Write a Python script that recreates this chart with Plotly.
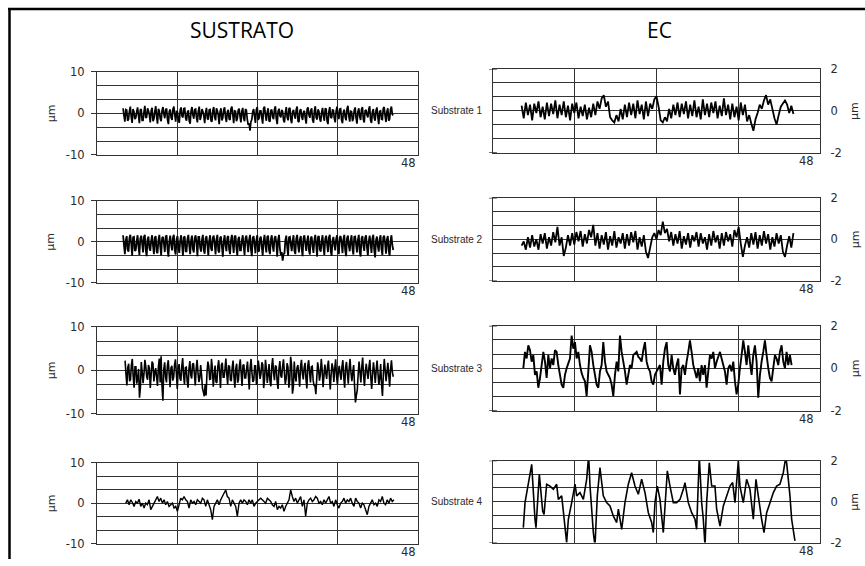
import numpy as np
import plotly.graph_objects as go

# ---------------- data ----------------
column_titles = ["SUSTRATO", "EC"]
substrate_labels = ["Substrate 1", "Substrate 2", "Substrate 3", "Substrate 4"]
x_max = 48
x_ticks = [0, 12, 24, 36, 48]
left_ticks = [-10, 0, 10]
left_minor = [-6.667, -3.333, 3.333, 6.667]
right_ticks = [-2, 0, 2]
right_minor = [-1.333, -0.667, 0.667, 1.333]
unit_label = "µm"
end_label = "48"

# SUSTRATO profiles (µm): main samples + in-between samples, uniform over span (mm)
sus1_span = [3.9, 44.3]
sus1 = [1.2,-2.0,0.8,-1.5,1.6,-2.3,0.4,-1.1,1.4,-2.4,
        1.0,-1.7,1.8,-0.9,0.6,-2.2,1.3,-1.4,1.7,-2.5,
        0.5,-1.9,1.5,-1.2,1.1,-2.6,0.9,-1.6,1.6,-2.0,
        0.3,-2.3,1.4,-1.0,1.2,-1.8,0.7,-2.5,1.5,-1.3,
        1.0,-2.2,1.6,-0.8,0.4,-2.4,1.3,-1.5,0.9,-2.0,
        1.5,-1.7,0.6,-2.6,1.2,-1.1,1.4,-2.1,0.8,-1.6,
        1.6,-2.4,0.5,-1.3,1.1,-2.2,1.3,-1.9,0.7,-2.8,
        -4.2,-1.5,1.0,-2.3,1.5,-1.2,0.6,-2.5,1.6,-1.8,
        1.2,-2.0,0.9,-1.4,1.7,-2.6,1.1,-1.0,0.4,-2.2,
        1.5,-1.7,1.3,-2.4,0.8,-1.3,1.6,-2.1,1.0,-1.6,
        0.6,-2.5,1.4,-1.1,1.2,-2.3,1.7,-1.5,0.5,-2.0,
        1.3,-1.8,1.0,-2.6,1.5,-1.2,0.7,-2.2,1.6,-1.4,
        1.1,-2.4,0.9,-1.7,1.8,-2.0,0.4,-1.3,1.4,-2.5,
        1.2,-1.6,1.5,-2.2,0.8,-1.0,1.7,-2.3,1.0,-1.8,
        1.4,-2.6,0.6,-1.5,1.5,-2.1,1.2,-1.4,1.6,-0.5]
sus1_mid = [-0.6,0.9,-1.8,0.5,-0.9,1.0,-1.4,0.3,-0.5,0.8,
            -1.7,0.2,-1.1,1.2,-0.4,0.6,-1.9,0.4,-0.8,1.1,
            -1.3,0.7,-0.2,0.9,-1.6,0.5,-1.0,1.0,-0.3,0.4,
            -1.5,0.8,-0.7,1.1,-1.2,0.3,-1.9,0.6,-0.4,0.9,
            -1.1,0.5,-1.6,1.0,-0.6,0.2,-1.3,0.8,-1.8,0.7,
            -0.9,1.2,-0.5,0.4,-1.7,0.9,-1.0,0.3,-1.4,1.1,
            -0.3,0.6,-1.9,0.8,-0.8,0.5,-1.2,1.0,-1.5,-2.4,
            -2.0,0.4,-0.7,0.9,-1.6,0.6,-1.1,1.2,-0.4,0.3,
            -1.8,0.7,-0.9,1.0,-1.3,0.5,-0.6,0.8,-1.7,0.2,
            -1.0,1.1,-1.5,0.4,-0.5,0.9,-1.9,0.6,-0.8,0.3,
            -1.2,1.0,-0.4,0.7,-1.6,0.5,-1.1,0.9,-1.4,0.2,
            -0.7,1.2,-1.8,0.4,-0.9,0.8,-1.3,0.6,-0.5,1.0,
            -1.6,0.3,-1.0,1.1,-0.6,0.5,-1.9,0.8,-1.2,0.4,
            -0.8,0.9,-1.5,0.6,-0.4,1.0,-1.7,0.3,-1.1,0.7,
            -0.9,0.5,-1.4,1.2,-0.6,0.4,-1.8,0.9,-0.3]

sus2_span = [3.9, 44.3]
sus2 = [1.6,-3.0,1.4,-2.4,1.7,-3.4,1.2,-2.0,1.6,-3.2,
        1.5,-2.6,1.7,-3.5,1.3,-2.2,1.6,-3.0,1.4,-2.8,
        1.7,-3.3,1.2,-2.5,1.6,-3.6,1.5,-2.1,1.7,-3.1,
        1.4,-2.7,1.6,-3.4,1.3,-2.3,1.7,-3.0,1.5,-2.6,
        1.6,-3.5,1.2,-2.4,1.7,-2.9,1.4,-3.3,1.6,-2.2,
        1.5,-3.1,1.7,-2.6,1.3,-3.6,1.6,-2.3,1.4,-3.0,
        1.7,-2.7,1.5,-3.4,1.2,-2.1,1.6,-3.2,1.5,-2.5,
        1.7,-3.5,1.4,-2.8,1.6,-2.2,1.3,-3.3,1.7,-2.6,
        1.5,-3.0,1.6,-2.4,1.4,-3.6,1.7,-3.2,-4.6,-2.8,
        1.5,-3.4,1.2,-2.3,1.6,-3.0,1.7,-2.6,1.4,-3.5,
        1.6,-2.2,1.5,-3.1,1.3,-2.7,1.7,-3.6,1.4,-2.4,
        1.6,-3.2,1.5,-2.5,1.7,-3.4,1.2,-2.1,1.6,-3.0,
        1.4,-2.8,1.7,-3.5,1.5,-2.3,1.6,-3.1,1.3,-2.6,
        1.7,-3.6,1.4,-2.2,1.6,-3.3,1.5,-2.7,1.7,-3.8,
        1.3,-2.4,1.6,-3.2,1.5,-2.9,1.4,-3.4,1.6,-2.0]
sus2_mid = [-0.8,0.4,-1.9,0.9,-0.5,1.1,-2.2,0.2,-1.2,0.8,
            -0.3,1.2,-2.0,0.6,-1.5,0.3,-0.9,1.0,-2.4,0.5,
            -1.1,0.9,-0.4,1.3,-1.8,0.1,-0.7,1.0,-2.1,0.6,
            -1.3,0.3,-0.6,1.1,-2.3,0.7,-1.0,0.4,-1.7,0.9,
            -0.2,1.2,-1.4,0.5,-2.0,0.8,-0.8,0.3,-1.6,1.0,
            -0.5,0.6,-2.2,0.9,-1.2,0.2,-0.9,1.1,-1.9,0.4,
            -0.6,1.3,-1.5,0.7,-2.1,0.3,-1.1,0.9,-0.4,0.5,
            -1.8,1.0,-0.7,0.4,-2.4,0.8,-1.3,0.2,-0.8,1.2,
            -2.0,0.6,-1.0,0.9,-0.3,0.5,-1.7,-2.5,-3.0,0.4,
            -1.2,1.1,-0.6,0.3,-2.2,0.8,-0.9,0.6,-1.6,1.0,
            -0.4,0.2,-2.0,0.9,-1.1,0.5,-0.7,1.2,-1.9,0.3,
            -1.4,0.8,-0.5,1.0,-2.3,0.4,-0.8,0.7,-1.5,1.1,
            -0.2,0.6,-2.1,0.9,-1.0,0.3,-1.7,1.2,-0.6,0.5,
            -2.4,0.8,-0.9,1.0,-1.3,0.2,-0.5,0.9,-2.0,0.4,
            -1.1,0.7,-1.8,1.1,-0.4,0.6,-2.2,0.3,-0.8]

sus3_span = [4.2, 44.3]
sus3 = [2.2,-3.5,1.5,-2.2,2.6,-4.0,0.8,-1.8,-6.3,1.9,
        -3.0,2.4,-1.5,1.2,-4.1,2.0,-2.6,0.5,-3.6,2.7,
        3.2,-7.0,1.8,-2.8,2.3,-3.9,1.0,-1.6,2.5,-4.3,
        1.4,-2.4,2.8,-3.2,0.7,-4.0,2.1,-1.9,1.6,-3.5,
        2.4,-2.7,1.2,-4.2,-6.0,-5.8,2.0,-2.1,2.6,-3.8,
        1.1,-2.9,2.3,-4.1,1.7,-1.6,2.7,-3.3,0.9,-2.5,
        2.2,-4.0,1.5,-2.2,2.5,-3.6,1.3,-1.8,2.0,-4.4,
        2.6,-2.7,1.0,-3.4,2.2,-2.0,1.8,-4.1,2.4,-2.9,
        1.4,-3.7,2.8,-2.3,0.8,-4.3,2.1,-1.7,2.5,-3.2,
        1.6,-4.0,3.1,-5.4,2.0,-2.6,1.2,-3.8,2.4,-2.1,
        1.7,-4.2,2.3,-2.8,0.9,-3.5,-5.5,1.8,-2.4,2.6,
        -3.9,1.3,-2.0,2.2,-4.4,1.6,-2.7,2.5,-3.3,1.0,
        -2.2,2.3,-4.0,1.9,-3.1,2.6,-2.5,1.2,-7.4,-4.6,
        2.0,-2.8,2.9,-3.6,1.5,-2.0,2.4,-4.3,1.8,-2.9,
        2.2,-3.4,1.4,-5.9,2.6,-2.5,1.7,-3.8,2.3,-1.5]
sus3_mid = [-0.9,0.6,-2.5,1.2,-1.4,0.8,-3.1,0.3,-4.0,-0.5,
            -0.8,0.9,-2.2,0.4,-1.0,1.5,-0.6,-1.4,0.7,-2.8,
            -3.5,0.2,-1.6,1.0,-0.9,0.5,-2.4,1.3,-0.7,0.1,
            -1.9,0.9,-1.2,0.6,-2.6,0.4,-1.1,1.4,-0.8,0.3,
            -0.5,-1.8,-1.2,-5.0,-3.2,-0.6,0.9,-2.0,0.5,-1.3,
            -2.7,0.8,-0.4,1.2,-1.6,0.3,-0.9,1.0,-2.2,0.6,
            -1.5,0.4,-2.9,0.9,-0.7,1.1,-1.8,0.2,-1.2,0.7,
            -0.6,-2.3,1.0,-1.4,0.5,-0.8,1.3,-2.0,0.4,-1.0,
            -2.5,0.9,-0.6,1.1,-2.7,0.3,-1.3,0.8,-0.4,-1.9,
            0.7,-2.2,1.2,-3.8,-1.5,0.5,-1.1,0.9,-0.7,0.6,
            -2.0,1.0,-0.5,0.8,-2.4,-3.6,-1.8,0.4,-1.0,0.2,
            -1.3,-0.6,0.9,-1.2,-0.8,0.3,0.5,-1.4,-0.2,-0.9,
            0.8,-1.6,0.6,-0.7,0.3,-0.5,-0.4,-3.6,-5.8,-0.9,
            -0.4,0.7,-1.1,-0.3,-0.6,0.8,-1.5,-0.9,-0.2,-0.1,
            -0.6,-1.8,-3.2,-1.0,0.1,-0.5,-1.0,0.2,-0.4]

sus4_span = [4.3, 44.4]
sus4 = [0,0.81,-0.41,0.81,0.16,-0.81,0.41,0,0.98,-0.81,
        0,-1.22,0,-0.41,0.81,-1.63,
        -0.81,0,0.81,1.63,0.41,1.22,0,0.81,-0.41,0.41,-0.81,-0.41,0,-1.22,-0.81,-2.03,-0.41,1.22,0.81,1.63,
        0.81,0.41,-1.22,0.81,0,0.41,-0.41,0.81,0.41,0,1.22,0.81,-0.81,0.81,-0.41,-1.63,-4.07,-0.81,0,0.81,
        -0.41,0.81,1.63,2.44,3.25,1.63,1.22,-0.81,0.81,0,-0.81,-3.25,0,0.81,0,0.81,0.41,-0.41,0.81,0,
        0.81,-0.81,0,0.41,0.81,1.22,0.81,0.41,0,1.22,0.81,0.41,-0.41,-0.81,0.41,-1.63,-0.81,-1.22,-0.41,-2.03,
        -0.81,0,0.81,3.25,1.63,0.41,1.22,0,0.81,1.63,-0.81,0.81,-3.25,0,0.81,1.22,0.41,0.81,1.63,1.22,
        0,0.41,-0.41,0.81,0,0.81,1.63,0,0.41,-0.81,0.81,-0.41,-1.22,0,0.41,1.22,0,0.81,0.41,1.22,
        0,-0.81,1.22,0.41,0,-1.22,0,-0.41,-1.63,-2.85,-0.81,0,0.81,-0.41,0,-0.81,0.81,0.41,1.63,0,
        -0.41,0.81,0,1.22,0.41,0.81]

# EC profiles (µm)
ec1_span = [4.2, 44.1]
ec1 = [0.25,-0.35,0.4,-0.2,0.3,-0.45,0.35,-0.1,0.45,-0.3,
       0.2,-0.4,0.4,-0.25,0.35,-0.15,0.5,-0.35,0.3,-0.2,
       0.45,-0.3,0.25,-0.45,0.35,-0.1,0.4,-0.35,0.2,-0.25,
       0.3,-0.4,0.15,-0.3,0.35,-0.2,0.45,0.1,0.6,0.75,
       0.2,0.45,-0.3,-0.45,-0.55,-0.2,-0.5,0.1,-0.4,0.3,
       -0.3,0.4,-0.2,0.35,-0.35,0.5,-0.15,0.3,-0.4,0.45,
       -0.25,0.35,0.1,0.55,0.7,0.2,-0.45,-0.55,-0.3,-0.5,
       0.1,-0.35,0.3,-0.2,0.4,-0.3,0.35,-0.15,0.45,-0.35,
       0.3,-0.25,0.5,-0.3,0.2,-0.4,0.55,-0.2,0.35,-0.3,
       0.4,-0.1,0.45,-0.35,0.25,-0.25,0.6,-0.2,0.3,-0.4,
       0.35,-0.3,0.2,-0.45,0.4,-0.2,0.3,-0.5,-0.2,-0.6,
       -0.95,-0.4,-0.1,0.3,0.1,0.5,0.75,0.3,0.55,0.1,
       -0.35,-0.65,-0.2,0.2,0.35,0.5,0.3,-0.1,0.25,-0.15]

ec2_span = [4.2, 44.1]
ec2 = [-0.3,-0.1,-0.5,0.1,-0.4,0.2,-0.35,0.0,-0.5,0.25,
       -0.2,0.3,-0.45,0.1,-0.3,0.35,-0.15,0.6,-0.3,0.1,
       -0.8,-0.4,0.2,-0.3,0.3,-0.25,0.35,-0.1,0.4,-0.35,
       0.25,-0.2,0.45,0.1,0.7,-0.3,0.3,-0.45,0.2,-0.25,
       0.35,-0.5,0.15,-0.3,0.4,-0.4,0.1,-0.2,0.3,-0.45,
       0.25,-0.3,0.35,-0.15,0.4,-0.5,0.1,-0.35,0.2,-0.6,
       -0.9,-0.4,0.1,0.3,0.0,0.45,0.2,0.85,0.3,0.5,
       -0.1,0.35,-0.3,0.25,-0.2,0.4,-0.45,0.15,-0.25,0.3,
       -0.4,0.2,-0.1,0.35,-0.35,0.3,-0.2,0.1,-0.5,0.25,
       -0.3,0.4,-0.15,0.2,-0.45,0.3,-0.3,0.35,-0.1,0.25,
       -0.35,0.45,0.1,0.6,-0.2,-0.85,-0.3,0.1,-0.4,0.3,
       -0.25,0.35,-0.45,0.2,-0.3,0.4,-0.2,0.25,-0.5,0.1,
       -0.35,0.3,-0.2,0.2,-0.6,-0.85,-0.3,0.15,-0.4,0.3]

ec3_span = [4.45, 43.83]
ec3 = [0,0.77,0.46,1.08,0.85,0.31,0.62,-0.31,-0.15,-0.92,
       -0.46,0.15,0.77,0.31,-0.46,0.62,0,0.46,0.15,0.85,
       0.77,0.15,-0.31,-0.77,-0.92,-0.31,0,0.23,0.46,1.54,
       0.92,1.23,0.46,0.77,0.15,-0.23,-0.46,-0.62,-1.31,-0.15,
       1.08,0.77,0.15,-0.31,-0.77,-0.92,-0.15,0.15,1.23,0.31,
       -0.15,-0.31,-0.46,-0.77,-1.31,-0.31,0.31,-0.15,1.54,0.77,
       0.31,-0.15,-0.77,-0.31,0.15,0,0.62,0.69,0.77,0.54,
       0.46,0.31,0.85,1.23,0.31,0,-0.15,-0.62,-0.77,-0.31,
       -0.15,0,0.15,-0.77,0.31,0.92,1.23,0.15,-0.15,0.62,
       0,-0.31,0.15,0.46,-1.23,0,0.15,-0.31,0.31,0.77,
       1.31,0.77,0.15,-0.15,-0.46,0,-0.62,0.15,-0.31,0.15,
       -0.92,-0.15,0.62,0.46,0.77,0,0.31,0.54,0.77,0.46,
       0.15,-0.15,-0.77,0,0.15,-0.15,0.31,-0.62,-1.23,-0.77,
       0,0.62,1.31,0.77,0.15,1.08,0.31,-0.31,0.62,1.08,
       0.31,-1.39,-0.31,0.31,0.77,1.31,0.62,0,-0.46,-0.62,
       0,0.62,0.46,0.15,0.77,1.08,0.31,0,0.77,0.15,
       0.62,0.15]

ec4_x = [4.45,4.70,5.68,6.16,6.31,6.80,7.29,7.49,7.88,8.37,8.86,9.34,9.59,10.08,10.32,10.81,
         11.06,11.55,12.04,12.28,12.77,13.26,13.75,14.04,14.24,14.73,14.97,15.31,15.70,16.19,
         16.68,17.17,17.66,18.15,18.40,18.89,19.37,19.86,20.35,20.84,21.33,21.82,22.31,22.80,
         23.29,23.53,23.78,24.12,24.51,25.00,25.59,25.98,26.47,26.96,27.45,27.94,28.18,28.67,
         29.16,29.65,29.89,30.28,30.63,30.87,31.12,31.36,31.75,32.10,32.58,32.83,33.32,33.81,
         34.30,34.79,35.18,35.52,36.01,36.25,36.74,37.23,37.72,38.21,38.60,38.94,39.43,39.78,
         40.17,40.66,41.15,41.63,42.12,42.61,43.00,43.35,43.59,43.84,44.32]
ec4 = [-1.27,-0.05,1.82,-0.86,-1.27,1.33,-0.46,-0.62,0.85,0.76,0.60,0.85,0.11,0.28,-0.46,-2.0,
       -0.86,-0.05,0.85,0.28,0.44,0.11,1.09,2.26,0.76,-1.51,-2.16,0.28,1.66,0.28,
       -0.05,-0.21,-0.70,-1.02,-0.37,-1.35,-0.05,0.85,1.41,0.76,0.36,1.09,0.44,-0.54,
       -1.02,-1.51,-0.05,0.76,0.11,-1.51,1.50,0.76,-0.05,-0.05,0.11,0.60,0.93,-0.05,
       -0.54,-0.86,-1.35,2.23,-0.05,-0.86,-2.16,-0.05,1.90,0.76,0.76,-0.37,-1.19,-0.21,
       0.28,0.76,0.93,-0.05,1.98,0.76,-0.05,1.09,0.60,-0.86,1.09,0.28,-0.86,-1.51,
       -0.54,-0.05,0.44,0.76,0.85,1.41,2.23,1.09,0.28,-0.86,-1.92]

# ---------------- figure ----------------
W, H = 865, 566


def Y(px):
    # vertical placement correction for the renderer (measured)
    return (px - 6.0) / 0.976


def ydom(top, bot):
    return [1 - Y(bot) / H, 1 - Y(top) / H]


def yp(px):
    return 1 - Y(px) / H


left_xdom = [97 / W, 418 / W]
right_xdom = [493 / W, 820 / W]
left_rows_px = [(70.7, 154), (200, 282), (326, 413), (462, 543)]
right_rows_px = [(68, 152), (197, 280), (325, 410), (460, 542)]

GRID = "#333333"
TXT = "#2a2a2a"
tick_font = dict(family="DejaVu Sans, sans-serif", size=11.5, color=TXT)


def interleave(main, mid):
    out = []
    for k, v in enumerate(main):
        out.append(v)
        if k < len(mid):
            out.append(mid[k])
    return out


fig = go.Figure()

left_series = [(interleave(sus1, sus1_mid), sus1_span),
               (interleave(sus2, sus2_mid), sus2_span),
               (interleave(sus3, sus3_mid), sus3_span),
               (sus4, sus4_span)]
right_series = [(ec1, ec1_span), (ec2, ec2_span), (ec3, ec3_span)]
line_widths = [1.7, 1.8, 1.6, 1.4, 1.8, 1.8, 1.9, 1.6]

layout = {}
annotations = []
shapes = []

for i in range(8):
    n = i + 1
    xa = "x" if n == 1 else f"x{n}"
    ya = "y" if n == 1 else f"y{n}"
    is_left = i < 4
    row = i % 4
    if is_left:
        vals, span = left_series[row]
        xs = np.linspace(span[0], span[1], len(vals))
        ys = vals
    else:
        if row < 3:
            vals, span = right_series[row]
            xs = np.linspace(span[0], span[1], len(vals))
            ys = vals
        else:
            xs, ys = ec4_x, ec4
    fig.add_trace(go.Scatter(x=xs, y=ys, xaxis=xa, yaxis=ya, mode="lines",
                             line=dict(color="black", width=line_widths[i], simplify=False),
                             showlegend=False, hoverinfo="skip"))

    xdom = left_xdom if is_left else right_xdom
    top, bot = (left_rows_px if is_left else right_rows_px)[row]
    layout[f"xaxis{n if n > 1 else ''}"] = dict(
        domain=xdom, anchor=ya, range=[0, x_max], tickvals=x_ticks,
        showticklabels=False, ticks="", showgrid=True, gridcolor=GRID, gridwidth=1.2,
        zeroline=False, showline=True, mirror=True, linecolor=GRID, linewidth=1.3,
        fixedrange=True)
    if is_left:
        layout[f"yaxis{n if n > 1 else ''}"] = dict(
            domain=ydom(top, bot), anchor=xa, range=[-10, 10],
            tickvals=left_ticks, ticktext=[str(t) for t in left_ticks],
            ticks="outside", ticklen=5, tickcolor=GRID, tickwidth=1.3,
            tickfont=tick_font, ticklabelstandoff=4,
            showgrid=True, gridcolor=GRID, gridwidth=1.2,
            minor=dict(tickvals=left_minor, showgrid=True, gridcolor=GRID, gridwidth=1.2, ticks=""),
            zeroline=False, showline=True, mirror=True, linecolor=GRID, linewidth=1.3,
            fixedrange=True)
        annotations.append(dict(text=unit_label, xref="paper", yref=ya, x=51 / W, y=0,
                                xanchor="center", yanchor="middle",
                                textangle=-90, showarrow=False,
                                font=dict(family="DejaVu Sans, sans-serif", size=11, color=TXT)))
    else:
        layout[f"yaxis{n}"] = dict(
            domain=ydom(top, bot), anchor=xa, range=[-2, 2], side="right",
            tickvals=right_ticks, ticktext=[str(t) for t in right_ticks],
            ticks="", tickfont=tick_font, ticklabelstandoff=7,
            showgrid=True, gridcolor=GRID, gridwidth=1.2,
            minor=dict(tickvals=right_minor, showgrid=True, gridcolor=GRID, gridwidth=1.2, ticks=""),
            zeroline=False, showline=True, mirror=True, linecolor=GRID, linewidth=1.3,
            fixedrange=True)
        annotations.append(dict(text=unit_label, xref="paper", yref=ya, x=855 / W, y=0,
                                xanchor="center", yanchor="middle",
                                textangle=-90, showarrow=False,
                                font=dict(family="DejaVu Sans, sans-serif", size=11, color=TXT)))
        annotations.append(dict(text=substrate_labels[row], xref="paper", yref=ya,
                                x=457 / W, y=0, xanchor="center", yanchor="middle",
                                showarrow=False,
                                font=dict(family="Liberation Sans Narrow, Liberation Sans, sans-serif",
                                          size=10, color=TXT)))
        for yv in (-2, 2):
            shapes.append(dict(type="line", xref=f"{xa} domain", yref=ya,
                               x0=-0.012, x1=0.012, y0=yv, y1=yv,
                               line=dict(color=GRID, width=1.3)))
    annotations.append(dict(text=end_label, xref=xa, yref=f"{ya} domain", x=x_max, y=0,
                            xanchor="right", yanchor="top", showarrow=False,
                            xshift=0 if is_left else -4, yshift=1,
                            font=tick_font))

annotations.append(dict(text=column_titles[0], xref="paper", yref="paper",
                        x=242 / W, y=yp(29), xanchor="center", yanchor="middle",
                        showarrow=False,
                        font=dict(family="Open Sans, sans-serif", size=21, color="black")))
annotations.append(dict(text=column_titles[1], xref="paper", yref="paper",
                        x=659 / W, y=yp(29), xanchor="center", yanchor="middle",
                        showarrow=False,
                        font=dict(family="Open Sans, sans-serif", size=21, color="black")))

shapes.append(dict(type="line", xref="paper", yref="paper", x0=9.5 / W, x1=9.5 / W,
                   y0=0, y1=yp(8), line=dict(color="black", width=2.5)))
shapes.append(dict(type="line", xref="paper", yref="paper", x0=8 / W, x1=1,
                   y0=yp(8), y1=yp(8), line=dict(color="black", width=2.5)))

fig.update_layout(width=W, height=H, autosize=False, margin=dict(l=0, r=0, t=0, b=0),
                  paper_bgcolor="white", plot_bgcolor="white",
                  annotations=annotations, shapes=shapes, **layout)

fig.write_html("out.html", config={"responsive": False, "displayModeBar": False},
               post_script="document.body.style.margin='0';document.body.style.overflow='hidden';")
